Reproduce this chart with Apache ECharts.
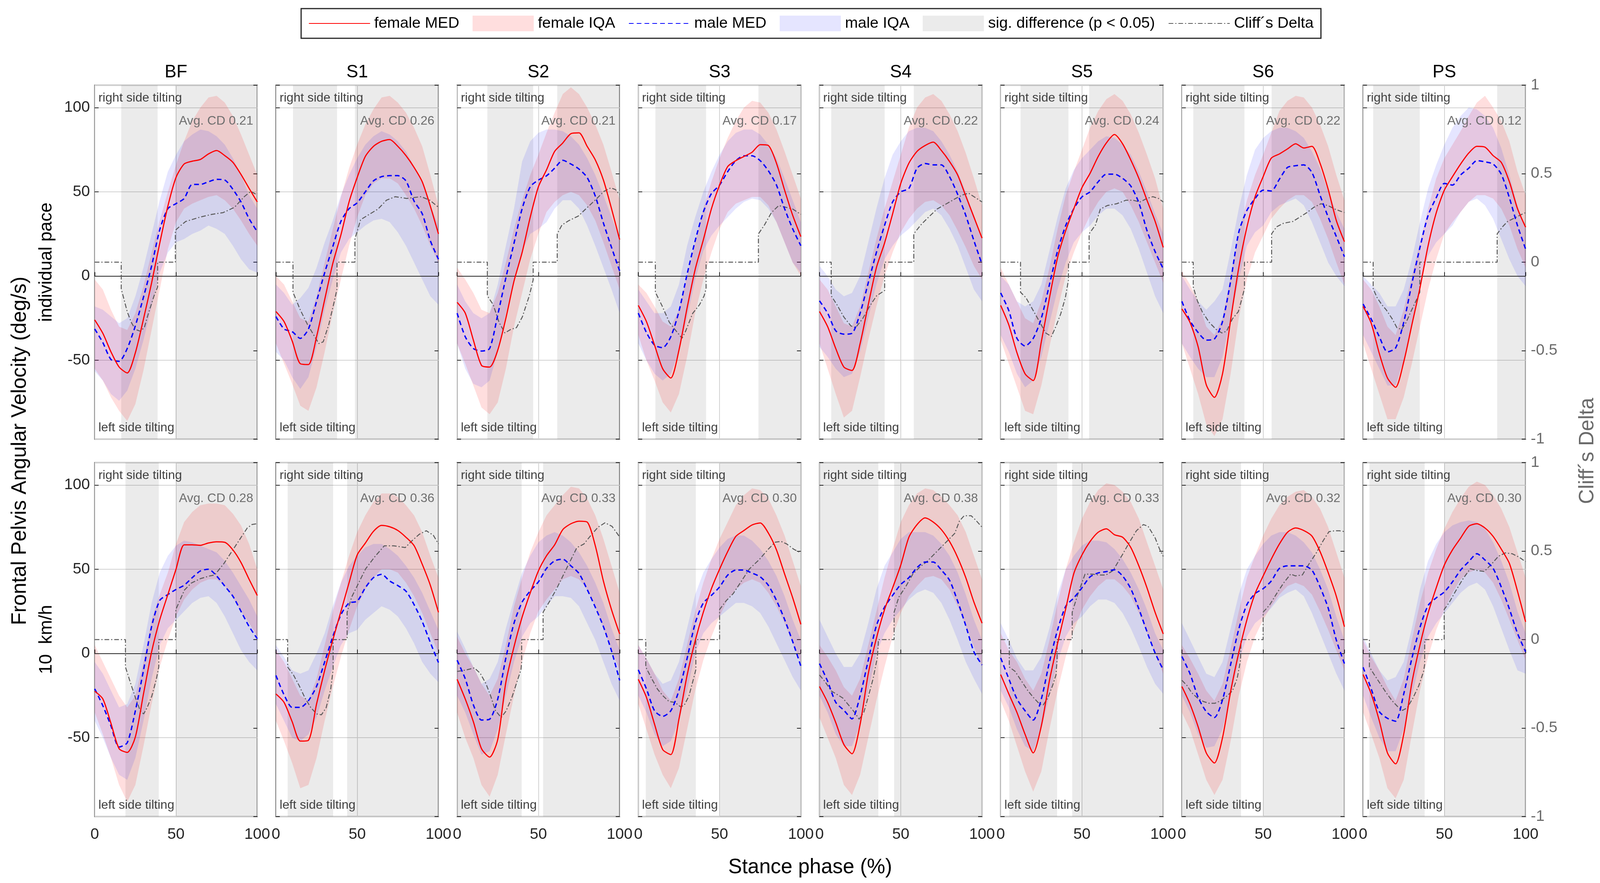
<!DOCTYPE html>
<html>
<head>
<meta charset="utf-8">
<script src="https://cdn.jsdelivr.net/npm/echarts@6/dist/echarts.min.js"></script>
<style>
html, body { margin: 0; padding: 0; background: #fff; overflow: hidden; }
#main { width: 100vw; height: 100vh; }
</style>
</head>
<body>
<div id="main"></div>
<script>
// stance phase samples (%)
var phase = [0,5,10,15,20,25,30,35,40,45,50,55,60,65,70,75,80,85,90,95,100];
var panels = ['BF','S1','S2','S3','S4','S5','S6','PS'];
var rowNames = ['individual pace', '10  km/h'];
var avgCDInd = ['0.21','0.26','0.21','0.17','0.22','0.24','0.22','0.12'];
var avgCDKmh = ['0.28','0.36','0.33','0.30','0.38','0.33','0.32','0.30'];

// significant difference intervals (% stance)
var sigInd = [
  [[16.3,38.7],[49.6,100]], [[10.5,37.6],[48.6,100]], [[18.6,46.8],[61.6,100]], [[10.5,41.7],[73.9,100]],
  [[7.2,40.1],[58,100]], [[12.2,41.7],[54.4,100]], [[7,38.5],[55.2,100]], [[6.2,34.9],[82.5,100]]
];
var sigKmh = [
  [[18.9,39.4],[49.9,100]], [[7.2,35.2],[43.8,100]], [[0,39.7],[52.9,100]], [[4.6,35.4],[50,100]],
  [[0,36.2],[45.9,100]], [[5.3,34.7],[44,100]], [[0,36.4],[50,100]], [[3.9,37.9],[49.9,100]]
];

// individual pace
var fMedInd = [
  [-26,-34,-45,-54,-57.5,-45.5,-25.5,-4,19.5,41.5,58.5,66.5,68.2,69.2,72.5,74.5,71.5,67.5,60.3,52,44],
  [-21,-27,-38.5,-52,-52.5,-36,-14,7.5,24.5,44,58.5,71,77,80,81,77,71.5,64.5,56,41.5,25],
  [-15.6,-22,-38,-53,-54,-44,-25,-3,14,35,53,63,74,79,84.5,85,77,69,57,40,21.6],
  [-17.4,-27,-41,-55,-60.5,-44,-19,4,21.5,40,54,65,68.5,71,73.5,78,77.5,67,51,36,23.4],
  [-21,-30,-43,-54,-56,-40,-17,5,19.5,37,55,67,74,77.5,79.5,74.5,68,60,47.5,35,22.5],
  [-17.4,-29,-45.5,-58,-62,-39,-13,11,27,40,52.5,61,71,79,84,78.5,69,58,45,32.5,17],
  [-19.5,-27.5,-42,-64.5,-72,-58,-26,5,29,47,59,70,72.5,75.5,78.5,76,77,67,51.5,33,20.4],
  [-18,-28,-46,-60.5,-66,-51,-29,-7,18,37.5,51,59,66.5,73,77,76.5,71.5,67.5,56,40,29]
];
var fLoInd = [
  [-55,-62,-72,-80,-86,-76,-56,-32,-8,16,32,40,43,45,47,48,45,40,33,25,18],
  [-40,-52,-64,-77,-80,-66,-45,-22,-2,18,35,48,55,58,58,55,48,40,30,18,8],
  [-40,-52,-65,-78,-82,-75,-55,-30,-10,10,25,38,44,48,50,48,42,33,20,6,-8],
  [-35,-50,-62,-75,-81,-70,-48,-22,-2,14,28,38,43,45,47,47,42,32,20,8,0],
  [-40,-55,-70,-84,-80,-60,-38,-18,0,14,26,34,40,44,45,42,36,27,17,6,-2],
  [-38,-52,-66,-80,-82,-65,-42,-20,0,14,26,36,44,50,52,50,42,32,20,8,-4],
  [-40,-55,-70,-88,-95,-85,-58,-25,-2,14,24,34,40,45,48,48,44,34,22,8,-5],
  [-40,-55,-70,-85,-85,-72,-52,-30,-8,10,25,32,38,44,48,48,46,40,30,16,5]
];
var fHiInd = [
  [-2,-8,-20,-30,-32,-22,-6,14,33,50,66,80,92,100,106,107,103,95,84,72,60],
  [0,-5,-15,-25,-27,-12,8,28,47,64,78,90,99,106,107,103,97,88,77,60,42],
  [5,-2,-10,-20,-22,-10,8,28,45,60,72,85,97,108,112,108,100,90,78,62,45],
  [-5,-10,-18,-27,-30,-20,0,20,40,56,70,82,92,100,104,103,97,87,74,60,46],
  [-2,-8,-18,-28,-30,-18,2,22,40,56,72,88,100,106,108,104,96,86,73,58,42],
  [5,-5,-15,-25,-28,-15,5,28,48,62,75,88,98,105,108,104,96,85,72,58,40],
  [3,-5,-15,-30,-35,-25,0,25,45,60,72,85,98,104,107,106,100,90,77,60,45],
  [-2,-8,-18,-30,-35,-20,0,20,40,58,70,78,86,95,103,107,100,92,80,62,48]
];
var mMedInd = [
  [-31.4,-39.5,-49.5,-50.6,-43,-29.5,-12.5,6,27.5,40,43,46,54.4,54.4,56,57.4,57,51.5,44,34,26.3],
  [-24,-31.4,-33,-37,-31.5,-15,2,17.5,32.5,40,43.5,50,56.5,59,59.6,59.6,56.5,44.5,37,21,10],
  [-22,-36,-43,-44.5,-43,-23,-1,19.5,40,53,57,59.5,64,68.7,66.5,63.5,58.5,47.5,31.5,17,3],
  [-22,-33.5,-41,-42.5,-36,-21,1,21,38,49,54,62,68.5,71.4,71.4,68.5,62.5,54,40,28,18],
  [-14.7,-22,-32.5,-34.5,-34,-22,-4,14,30,44,50,52,64,66.8,66,66,59,48.5,36,21,7],
  [-10,-20.5,-37,-41.5,-37,-25,-5,15,30,40,47,50,56,60.5,60.5,58,53.5,43.5,27,14.5,4.3],
  [-15,-26.5,-33.5,-38,-37.3,-27,-3,26,39,46,51,50.5,57.5,64.5,65.5,66,61.5,48,35,23.5,11.5],
  [-16.6,-25.5,-36,-45,-42.7,-27.5,-4.5,17,36,46.5,55,54,60,64,68.5,67.8,66.5,60.5,46.5,30,16]
];
var mLoInd = [
  [-56.5,-62,-70,-74,-68,-55,-38,-18,2,14,20,22,25,27,30,28,25,18,10,4,2],
  [-45,-50,-60,-67,-60,-42,-20,-2,14,22,26,30,33,34,32,26,18,8,-2,-12,-17],
  [-40,-55,-64,-66,-62,-45,-22,-3,15,25,28,32,40,45,45,40,30,18,5,-8,-22],
  [-40,-50,-58,-62,-58,-45,-25,-2,15,24,30,35,40,44,46,45,40,32,20,8,2],
  [-42,-48,-55,-60,-58,-45,-25,-5,10,18,24,28,33,38,40,36,28,18,5,-8,-15],
  [-35,-45,-58,-66,-62,-48,-28,-8,8,20,26,30,36,40,40,36,28,16,2,-12,-22],
  [-40,-48,-55,-60,-60,-48,-25,-2,18,26,30,38,42,44,46,42,32,20,8,0,-6],
  [-35,-45,-55,-65,-65,-50,-28,-5,12,20,25,30,38,44,46,42,34,22,10,0,-6]
];
var mHiInd = [
  [-18,-20,-24,-28,-25,-12,5,25,45,62,72,80,84,87,86,83,78,70,60,48,40],
  [-5,-10,-17,-13,-7,5,20,33,48,60,70,78,83,86,84,80,74,65,55,42,30],
  [-5,-15,-22,-25,-22,-5,18,40,68,80,85,87,87,86,83,78,70,60,48,35,22],
  [-8,-15,-22,-22,-18,-5,18,35,50,62,72,80,85,87,87,84,78,70,58,45,32],
  [6,0,-8,-12,-10,0,20,40,58,72,80,86,88,88,86,80,72,62,50,36,22],
  [0,-5,-15,-18,-15,-5,15,35,52,63,70,75,80,83,82,78,72,62,50,37,25],
  [0,-8,-15,-20,-15,-8,15,40,60,75,82,86,88,88,86,82,74,64,50,38,28],
  [0,-5,-10,-18,-18,-8,10,32,52,66,78,88,95,100,99,95,88,76,60,42,28]
];
// Cliff's Delta [phase, value]
var cdInd = [
  [[0,0],[16.3,0],[16.3,-0.15],[20,-0.28],[22.5,-0.34],[25,-0.38],[28,-0.39],[30.5,-0.37],[33,-0.29],[36.5,-0.19],[38.7,-0.14],[38.7,0],[49.6,0],[49.6,0.18],[52,0.2],[56,0.23],[65,0.255],[72,0.27],[79,0.28],[86,0.31],[92,0.37],[96,0.4],[100,0.38]],
  [[0,0],[10.5,0],[10.5,-0.17],[15,-0.27],[19.3,-0.35],[23.8,-0.42],[26.4,-0.46],[29.1,-0.45],[32.6,-0.35],[36.2,-0.21],[37.6,-0.15],[37.6,0],[48.6,0],[48.6,0.13],[52.1,0.24],[57.4,0.27],[62.8,0.3],[68,0.35],[73.4,0.37],[80.5,0.36],[89.4,0.37],[94.7,0.35],[100,0.31]],
  [[0,0],[18.6,0],[18.6,-0.19],[22.2,-0.24],[25.8,-0.34],[29.4,-0.4],[33,-0.38],[36.5,-0.37],[40.1,-0.31],[44.4,-0.19],[46.8,-0.1],[46.8,0],[61.6,0],[61.6,0.16],[64.5,0.21],[68.8,0.235],[74.5,0.26],[80.2,0.31],[86,0.36],[90.3,0.4],[94.6,0.42],[97.4,0.41],[100,0.38]],
  [[0,0],[10.5,0],[10.5,-0.17],[14.8,-0.25],[19.1,-0.34],[23.4,-0.39],[26.9,-0.43],[29.1,-0.39],[33.4,-0.29],[37.7,-0.24],[40.5,-0.19],[41.7,-0.15],[41.7,0],[73.9,0],[73.9,0.16],[77.6,0.21],[81.9,0.28],[86.4,0.32],[90.7,0.31],[95,0.3],[100,0.27]],
  [[0,0],[7.2,0],[7.2,-0.19],[10.7,-0.24],[15,-0.31],[19.3,-0.36],[22.2,-0.37],[26.5,-0.32],[30.8,-0.25],[35.1,-0.19],[40.1,-0.16],[40.1,0],[58,0],[58,0.16],[62.3,0.21],[66.6,0.25],[72.3,0.3],[78.1,0.33],[83.8,0.36],[88.1,0.38],[91.7,0.39],[96.7,0.36],[100,0.34]],
  [[0,0],[12.2,0],[12.2,-0.17],[15.5,-0.2],[19.8,-0.27],[24.1,-0.34],[27.7,-0.4],[31.2,-0.42],[34.1,-0.36],[37,-0.29],[39.8,-0.2],[41.7,-0.1],[41.7,0],[54.4,0],[54.4,0.16],[58.3,0.21],[61.3,0.3],[65.6,0.32],[71.3,0.33],[77.1,0.35],[81.4,0.35],[85.7,0.34],[90,0.36],[93.6,0.37],[97.1,0.36],[100,0.34]],
  [[0,0],[7,0],[7,-0.14],[9.6,-0.22],[12.5,-0.28],[16.8,-0.34],[21.1,-0.38],[24.6,-0.4],[27.5,-0.39],[31.1,-0.32],[34.7,-0.28],[36.8,-0.21],[38.5,-0.15],[38.5,0],[55.2,0],[55.2,0.16],[58.3,0.2],[62.6,0.22],[68.3,0.23],[72.6,0.255],[76.9,0.28],[81.2,0.31],[85.5,0.33],[89.8,0.32],[94.1,0.3],[100,0.28]],
  [[0,0],[6.2,0],[6.2,-0.15],[8.6,-0.2],[11.5,-0.24],[14.3,-0.27],[17.9,-0.32],[20.8,-0.37],[23.7,-0.38],[26.5,-0.34],[29.4,-0.28],[33,-0.21],[34.9,-0.17],[34.9,0],[82.5,0],[82.5,0.16],[85.8,0.2],[88.9,0.23],[93.3,0.25],[97.6,0.27],[100,0.28]]
];

// 10 km/h
var fMedKmh = [
  [-22.4,-27,-41.5,-56.5,-58.7,-49.5,-24,1,20,35,50,64.5,64.5,64.2,65.6,66.3,66,61.5,54,44,34.4],
  [-24,-29,-40.5,-52,-51.5,-30,-10,8,25,42,58.5,65.5,72.5,76,75.2,73,69,64,53,40.5,24.4],
  [-15.3,-27,-40.5,-56.5,-61.5,-51,-17,4,21.6,36,49,58,64.5,73.5,77,78.5,78,64,43,26,11.6],
  [-15.3,-26,-42,-57,-60,-39,-13,7.5,24.5,38.5,50,60.5,69.5,73,76.3,77.5,71.5,61.5,47.2,33,17.3],
  [-19.6,-29,-41,-54,-59.5,-42,-12,9,26,39,52.5,69,76.5,80.5,78,73.5,66.5,57,45,30.5,18],
  [-12.5,-24,-35,-48,-59,-43,-16,6,26.5,47.5,58.5,66.5,72,74,70.5,69,63,52,39,24.4,11.6],
  [-19.6,-30,-43.5,-59,-65,-50,-22.5,0.5,20,35.5,46,56,65,72,74.5,73,69.7,60.5,48,34,15.9],
  [-12.5,-24,-40,-59,-65.5,-48,-17.5,5,24,39,52.5,61.5,68.5,75.5,77,74.5,69.5,62,53.5,37,18.8]
];
var fLoKmh = [
  [-35,-48,-62,-78,-88,-78,-55,-30,-8,8,22,32,38,42,44,44,40,33,25,18,10],
  [-40,-52,-65,-80,-78,-62,-40,-20,-2,14,28,38,45,50,50,48,42,34,24,12,0],
  [-35,-50,-62,-78,-85,-72,-48,-25,-5,12,25,32,38,44,46,44,38,28,15,2,-10],
  [-30,-45,-60,-72,-80,-68,-45,-22,-4,10,22,32,38,42,44,42,36,28,18,6,-5],
  [-38,-50,-62,-78,-84,-72,-50,-28,-8,10,24,34,40,45,46,44,38,28,16,4,-8],
  [-28,-40,-55,-70,-82,-70,-45,-22,-2,14,26,34,40,44,44,40,34,24,12,0,-12],
  [-35,-45,-60,-75,-84,-75,-52,-25,-5,10,20,28,35,40,42,40,35,25,14,2,-10],
  [-35,-48,-62,-80,-86,-75,-48,-22,-2,14,26,36,44,48,50,48,42,32,20,8,-4]
];
var fHiKmh = [
  [5,-5,-15,-25,-32,-25,-5,20,35,48,65,78,84,88,89,89,88,83,76,65,50],
  [2,-5,-15,-25,-28,-15,5,25,42,58,72,82,90,95,95,93,88,82,72,58,45],
  [10,0,-8,-18,-25,-15,5,28,45,60,72,82,88,94,99,98,92,82,68,52,36],
  [5,-3,-12,-22,-28,-15,5,25,42,56,68,78,88,94,98,97,92,82,70,55,40],
  [5,-2,-10,-20,-25,-15,5,25,45,62,78,88,95,98,97,93,88,82,72,58,44],
  [12,2,-5,-15,-22,-12,8,30,50,66,80,90,97,101,100,96,90,80,66,52,38],
  [5,-3,-12,-22,-28,-18,3,25,45,58,70,80,88,93,96,97,93,86,75,60,45],
  [8,-2,-10,-20,-28,-15,8,30,48,62,74,84,92,99,102,100,94,86,75,60,45]
];
var mMedKmh = [
  [-21,-31,-43,-55.5,-53,-34,-10,16,31.5,35,38,40.5,45,49,50,46,40,34,25,16,8.8],
  [-13,-24.5,-32,-32,-28,-19.5,-5,10,23,30,31,39,45,47,43,40.3,37,29,19,6.5,-5.4],
  [-4,-15,-30.5,-39.5,-39,-27,-2.6,18,30.5,37.2,42.5,50.5,55,56,52,47.5,38,27.5,16,1.5,-16],
  [-9.7,-21,-34,-37.3,-34,-22,-3,18,30,34.5,39.5,46.5,49.5,49.5,47.7,45.5,40.5,31.5,20.2,7,-7.5],
  [-6,-16.5,-29,-33.7,-38.8,-25,-4,16.5,27.5,34.5,41,45,51,54.3,54.3,49.5,43.5,31,16.5,1,-6.8],
  [-2.6,-15,-27,-34,-39.5,-27,-5,14,28,33,39,45.5,47.8,48.6,49.7,46,38.5,26.5,13,0.3,-9.7],
  [-1.8,-12,-26,-34.5,-38,-27.5,-6.5,14.5,29,35.5,38.5,43,50.5,52,52,52,49.5,39.5,27,8,-6],
  [-8.2,-21,-34.5,-38.5,-40.2,-24,-3,15.5,28.5,33,36.5,42.5,49.5,54.5,59.2,55.5,50.5,39.5,26.5,12,1]
];
var mLoKmh = [
  [-40,-50,-62,-72,-75,-62,-40,-15,5,15,20,25,30,33,34,30,22,12,2,-5,-10],
  [-30,-40,-50,-52,-48,-38,-22,-8,5,12,14,20,24,28,26,22,15,6,-5,-12,-17],
  [-25,-35,-48,-60,-58,-45,-25,-5,10,18,22,28,34,34,33,28,18,8,-5,-18,-28],
  [-25,-35,-48,-55,-52,-40,-22,0,12,18,22,26,30,30,28,24,16,6,-4,-14,-22],
  [-25,-35,-48,-55,-55,-42,-22,0,12,20,26,32,36,38,36,30,20,8,-5,-15,-24],
  [-22,-32,-45,-55,-58,-45,-25,-5,10,18,22,28,32,32,30,24,15,4,-8,-18,-24],
  [-25,-35,-48,-56,-55,-45,-25,-5,10,18,22,27,33,36,38,34,24,12,0,-12,-22],
  [-25,-38,-50,-58,-58,-45,-25,-5,10,18,24,30,36,40,42,38,28,15,2,-10,-12]
];
var mHiKmh = [
  [-5,-12,-22,-32,-30,-18,5,30,48,58,64,67,66,64,62,60,55,48,40,32,22],
  [5,-2,-10,-12,-10,0,12,28,42,52,58,63,65,65,62,58,52,45,36,25,14],
  [13,3,-8,-18,-15,-5,15,32,48,58,66,70,72,70,66,60,52,42,30,15,2],
  [5,-3,-12,-18,-16,-5,15,35,48,56,63,68,70,70,67,62,55,46,34,20,8],
  [20,10,0,-8,-8,0,18,38,52,60,68,72,72,72,70,65,58,48,35,20,8],
  [18,8,-3,-10,-10,-2,15,35,50,58,64,67,67,66,62,56,48,38,26,12,2],
  [18,8,-2,-12,-14,-5,15,35,50,58,65,70,72,72,70,66,60,50,38,22,8],
  [10,0,-10,-16,-14,-5,15,38,55,65,72,76,78,79,78,74,66,55,42,25,12]
];
var cdKmh = [
  [[0,0],[18.9,0],[18.9,-0.155],[22.2,-0.25],[25.1,-0.33],[27.9,-0.4],[30.1,-0.42],[32.2,-0.385],[35.1,-0.32],[38,-0.22],[39.4,-0.155],[39.4,0],[49.9,0],[49.9,0.17],[52.3,0.22],[55.2,0.28],[59.5,0.32],[65.2,0.345],[70.9,0.36],[73.8,0.365],[79.5,0.43],[85.2,0.51],[89.5,0.57],[93.8,0.63],[96.7,0.65],[100,0.655]],
  [[0,0],[7.2,0],[7.2,-0.155],[10.8,-0.2],[14.3,-0.26],[17.9,-0.33],[21.5,-0.385],[25.1,-0.42],[28,-0.425],[30.9,-0.385],[33.7,-0.28],[35.2,-0.17],[35.2,0],[43.8,0],[43.8,0.155],[46.6,0.24],[50.9,0.32],[55.2,0.4],[61,0.47],[66.7,0.53],[72.5,0.53],[79.6,0.52],[83.9,0.56],[88.2,0.595],[92.5,0.615],[96.8,0.59],[100,0.54]],
  [[0,-0.18],[3.4,-0.175],[6.3,-0.17],[10.6,-0.16],[14.2,-0.19],[17.8,-0.25],[20.7,-0.32],[23.5,-0.4],[27.1,-0.44],[30,-0.405],[33.6,-0.33],[36.4,-0.25],[39.3,-0.17],[39.7,-0.13],[39.7,0],[52.9,0],[52.9,0.155],[56.5,0.21],[60.8,0.28],[65.1,0.36],[69.4,0.44],[73.7,0.52],[78,0.54],[82.4,0.59],[86.7,0.635],[91,0.66],[95.3,0.64],[100,0.58]],
  [[0,0],[4.6,0],[4.6,-0.155],[8.2,-0.22],[11.8,-0.28],[15.4,-0.32],[18.9,-0.35],[22.5,-0.355],[26.1,-0.38],[28.3,-0.37],[31.1,-0.32],[34,-0.22],[35.4,-0.17],[35.4,0],[50,0],[50,0.17],[54.1,0.22],[58.4,0.26],[62.7,0.32],[68.4,0.4],[74.2,0.45],[79.9,0.51],[84.2,0.55],[87.8,0.555],[91.4,0.54],[95.7,0.51],[100,0.49]],
  [[0,-0.2],[3.6,-0.24],[7.2,-0.29],[10.8,-0.31],[14.3,-0.33],[17.9,-0.37],[21.5,-0.41],[24.4,-0.45],[27.3,-0.41],[30.1,-0.32],[33,-0.22],[35.6,-0.1],[36.2,-0.02],[36.2,0],[45.9,0],[45.9,0.155],[48.8,0.24],[53.1,0.3],[57.4,0.37],[61.7,0.41],[66,0.44],[70.3,0.48],[74.6,0.52],[78.9,0.56],[83.2,0.6],[86.1,0.67],[89,0.7],[93.3,0.7],[96.1,0.675],[100,0.635]],
  [[0,0],[5.3,0],[5.3,-0.155],[8.9,-0.18],[13.2,-0.24],[16.8,-0.29],[20.4,-0.33],[24,-0.365],[26.1,-0.37],[29,-0.33],[31.9,-0.26],[34,-0.2],[34.7,-0.115],[34.7,0],[44,0],[44,0.155],[47.6,0.26],[51.9,0.37],[56.2,0.37],[60.5,0.365],[64.8,0.365],[69.1,0.39],[74.9,0.48],[79.2,0.55],[83.5,0.615],[87.8,0.65],[90.7,0.64],[95,0.575],[97.8,0.51],[100,0.47]],
  [[0,-0.23],[3.2,-0.26],[6,-0.3],[9.6,-0.33],[13.2,-0.35],[16.8,-0.36],[20.3,-0.36],[23.9,-0.345],[27.5,-0.32],[31.1,-0.29],[34,-0.22],[36.1,-0.115],[36.4,0],[50,0],[50,0.155],[54,0.196],[58.3,0.26],[62.6,0.32],[66.9,0.37],[69.8,0.36],[74.1,0.365],[78.4,0.43],[82.7,0.49],[87,0.56],[90.5,0.61],[94.1,0.615],[97,0.615],[100,0.61]],
  [[0,0],[3.9,0],[3.9,-0.155],[7,-0.2],[10.6,-0.25],[14.2,-0.3],[17.8,-0.345],[21.4,-0.38],[24.3,-0.4],[27.2,-0.385],[30.7,-0.33],[34.3,-0.26],[37.2,-0.18],[37.9,-0.14],[37.9,0],[49.9,0],[49.9,0.17],[53,0.21],[57.3,0.28],[61.6,0.345],[65.9,0.4],[70.3,0.39],[74.6,0.385],[78.9,0.425],[83.2,0.47],[87.5,0.49],[91.8,0.485],[96.1,0.465],[100,0.44]]
];

var rowsData = [
  {fMed: fMedInd, fLo: fLoInd, fHi: fHiInd, mMed: mMedInd, mLo: mLoInd, mHi: mHiInd, cd: cdInd, sig: sigInd, avg: avgCDInd},
  {fMed: fMedKmh, fLo: fLoKmh, fHi: fHiKmh, mMed: mMedKmh, mLo: mLoKmh, mHi: mHiKmh, cd: cdKmh, sig: sigKmh, avg: avgCDKmh}
];

// layout is laid out on a 4341x2260 page and scaled to the actual window
var sx = window.innerWidth / 4341, sy = window.innerHeight / 2260, fs = Math.min(sx, sy);
function X(v) { return v * sx; }
function Y(v) { return v * sy; }
function F(v) { return Math.round(v * fs * 10) / 10; }

var font = "'Liberation Sans', Arial, Helvetica, sans-serif";
var yMin = -96.8, yMax = 113.3;
var gLeft = 257, gStep = 491.6, gW = 441, gH = 906, gTops = [218, 1184];
var sigColor = 'rgba(0,0,0,0.078)';
var femColor = 'rgba(255,0,0,0.13)';
var maleColor = 'rgba(0,0,255,0.10)';

var myChart = echarts.init(document.getElementById('main'));

function bandRender(lo, hi, fill) {
  return function (params, api) {
    if (params.dataIndex !== 0) return;
    var up = [], down = [];
    for (var i = 0; i < phase.length; i++) {
      up.push(api.coord([phase[i], hi[i]]));
      down.unshift(api.coord([phase[i], lo[i]]));
    }
    return { type: 'polygon', shape: { points: up.concat(down) }, style: { fill: fill } };
  };
}

function sigRender(params, api) {
  var a = api.coord([api.value(0), 0]);
  var b = api.coord([api.value(1), 0]);
  var cs = params.coordSys;
  return { type: 'rect', shape: { x: a[0], y: cs.y, width: b[0] - a[0], height: cs.height }, style: { fill: sigColor } };
}

var grids = [], xAxes = [], yAxes = [], series = [], graphics = [];
var tickStyle = { color: '#262626', width: 2 };

rowsData.forEach(function (rd, r) {
  panels.forEach(function (p, c) {
    var gi = r * 8 + c;
    var left = gLeft + c * gStep, top = gTops[r];
    grids.push({ left: X(left), top: Y(top), width: X(gW), height: Y(gH), show: true, borderColor: '#262626', borderWidth: 2.5 });
    xAxes.push({
      gridIndex: gi, type: 'value', min: 0, max: 100, interval: 50,
      axisLine: { show: false },
      axisTick: { show: true, inside: true, length: 10, lineStyle: tickStyle },
      axisLabel: { show: r === 1, fontSize: F(42), color: '#262626', margin: Y(26), fontFamily: font },
      splitLine: { show: true, lineStyle: { color: '#d2d2d2', width: 2 } }
    });
    yAxes.push({
      gridIndex: gi, type: 'value', min: yMin, max: yMax, splitNumber: 4,
      axisLine: { show: false },
      axisTick: { show: true, inside: true, length: 10, lineStyle: tickStyle },
      axisLabel: { show: c === 0, showMinLabel: false, showMaxLabel: false, fontSize: F(42), color: '#262626', margin: X(13), fontFamily: font },
      splitLine: { show: true, lineStyle: { color: '#d2d2d2', width: 2 } }
    });
    yAxes.push({
      gridIndex: gi, type: 'value', position: 'right', min: -1, max: 1, interval: 0.5,
      axisLine: { show: false },
      axisTick: { show: true, inside: true, length: 10, lineStyle: tickStyle },
      axisLabel: { show: c === 7, fontSize: F(42), color: '#6b6b6b', margin: X(14), fontFamily: font },
      splitLine: { show: false }
    });
    var yL = 2 * gi, yR = 2 * gi + 1;
    series.push({
      name: 'sig. difference (p < 0.05)', type: 'custom', xAxisIndex: gi, yAxisIndex: yL, z: 1, silent: true,
      itemStyle: { color: sigColor },
      data: rd.sig[c].map(function (s) { return [s[0], s[1], 0]; }),
      encode: { x: [0, 1], y: 2 },
      renderItem: sigRender,
      markLine: { silent: true, z: 5, symbol: ['none', 'none'], label: { show: false },
        lineStyle: { color: '#262626', width: 2, type: 'solid' }, data: [{ yAxis: 0 }] }
    });
    series.push({
      name: 'female IQA', type: 'custom', xAxisIndex: gi, yAxisIndex: yL, z: 2, silent: true,
      itemStyle: { color: femColor },
      data: phase.map(function (x, i) { return [x, rd.fLo[c][i], rd.fHi[c][i]]; }),
      encode: { x: 0, y: [1, 2] },
      renderItem: bandRender(rd.fLo[c], rd.fHi[c], femColor)
    });
    series.push({
      name: 'male IQA', type: 'custom', xAxisIndex: gi, yAxisIndex: yL, z: 3, silent: true,
      itemStyle: { color: maleColor },
      data: phase.map(function (x, i) { return [x, rd.mLo[c][i], rd.mHi[c][i]]; }),
      encode: { x: 0, y: [1, 2] },
      renderItem: bandRender(rd.mLo[c], rd.mHi[c], maleColor)
    });
    series.push({
      name: 'Cliff\u00b4s Delta', type: 'line', xAxisIndex: gi, yAxisIndex: yR, z: 6, silent: true,
      symbol: 'none', showSymbol: false,
      itemStyle: { color: '#5a5a5a' },
      lineStyle: { color: '#5a5a5a', width: 2.5, type: [12, 5, 3, 5] },
      data: rd.cd[c]
    });
    series.push({
      name: 'male MED', type: 'line', xAxisIndex: gi, yAxisIndex: yL, z: 7, silent: true,
      symbol: 'none', showSymbol: false, smooth: 0.25,
      itemStyle: { color: '#0000ff' },
      lineStyle: { color: '#0000ff', width: 3.5, type: [12, 8] },
      data: phase.map(function (x, i) { return [x, rd.mMed[c][i]]; })
    });
    series.push({
      name: 'female MED', type: 'line', xAxisIndex: gi, yAxisIndex: yL, z: 8, silent: true,
      symbol: 'none', showSymbol: false, smooth: 0.25,
      itemStyle: { color: '#ff0000' },
      lineStyle: { color: '#ff0000', width: 3 },
      data: phase.map(function (x, i) { return [x, rd.fMed[c][i]]; })
    });

    // in-panel annotations
    graphics.push({ type: 'text', x: X(left + 10), y: Y(top + 33), silent: true, z: 20,
      style: { text: 'right side tilting', font: F(34) + 'px ' + font, fill: '#404040', textAlign: 'left', textVerticalAlign: 'middle' } });
    graphics.push({ type: 'text', x: X(left + 10), y: Y(top + gH - 29), silent: true, z: 20,
      style: { text: 'left side tilting', font: F(34) + 'px ' + font, fill: '#404040', textAlign: 'left', textVerticalAlign: 'middle' } });
    graphics.push({ type: 'text', x: X(left + gW - 11), y: Y(top + 92), silent: true, z: 20,
      style: { text: 'Avg. CD ' + rd.avg[c], font: F(34) + 'px ' + font, fill: '#6e6e6e', textAlign: 'right', textVerticalAlign: 'middle' } });
    if (r === 0) {
      graphics.push({ type: 'text', x: X(left + gW / 2), y: Y(186), silent: true,
        style: { text: p, font: F(48) + 'px ' + font, fill: '#000', textAlign: 'center', textVerticalAlign: 'middle' } });
    }
  });
  graphics.push({ type: 'text', x: X(126), y: Y(gTops[r] + gH / 2), rotation: Math.PI / 2, silent: true,
    style: { text: rowNames[r], font: F(49) + 'px ' + font, fill: '#000', textAlign: 'center', textVerticalAlign: 'middle' } });
});

var midY = (gTops[0] + gTops[1] + gH) / 2;
graphics.push({ type: 'text', x: X(55), y: Y(midY), rotation: Math.PI / 2, silent: true,
  style: { text: 'Frontal Pelvis Angular Velocity (deg/s)', font: F(56) + 'px ' + font, fill: '#000', textAlign: 'center', textVerticalAlign: 'middle' } });
graphics.push({ type: 'text', x: X(4308), y: Y(midY), rotation: Math.PI / 2, silent: true,
  style: { text: 'Cliff\u00b4s Delta', font: F(56) + 'px ' + font, fill: '#6b6b6b', textAlign: 'center', textVerticalAlign: 'middle' } });
graphics.push({ type: 'text', x: X(gLeft + (7 * gStep + gW) / 2), y: Y(2220), silent: true,
  style: { text: 'Stance phase (%)', font: F(56) + 'px ' + font, fill: '#000', textAlign: 'center', textVerticalAlign: 'middle' } });

var option = {
  animation: false,
  backgroundColor: '#ffffff',
  textStyle: { fontFamily: font },
  legend: {
    top: Y(22), left: X(817),
    padding: [Y(18), X(20)], itemGap: X(36), itemWidth: X(166), itemHeight: Y(40),
    borderColor: '#262626', borderWidth: 3,
    textStyle: { fontSize: F(42), color: '#000', fontFamily: font, padding: [0, 0, 0, X(6)] },
    selectedMode: false,
    data: [
      { name: 'female MED', itemStyle: { opacity: 0 } },
      { name: 'female IQA', icon: 'rect' },
      { name: 'male MED', itemStyle: { opacity: 0 } },
      { name: 'male IQA', icon: 'rect' },
      { name: 'sig. difference (p < 0.05)', icon: 'rect' },
      { name: 'Cliff\u00b4s Delta', itemStyle: { opacity: 0 } }
    ]
  },
  grid: grids,
  xAxis: xAxes,
  yAxis: yAxes,
  series: series,
  graphic: graphics
};

myChart.setOption(option);
</script>
</body>
</html>
